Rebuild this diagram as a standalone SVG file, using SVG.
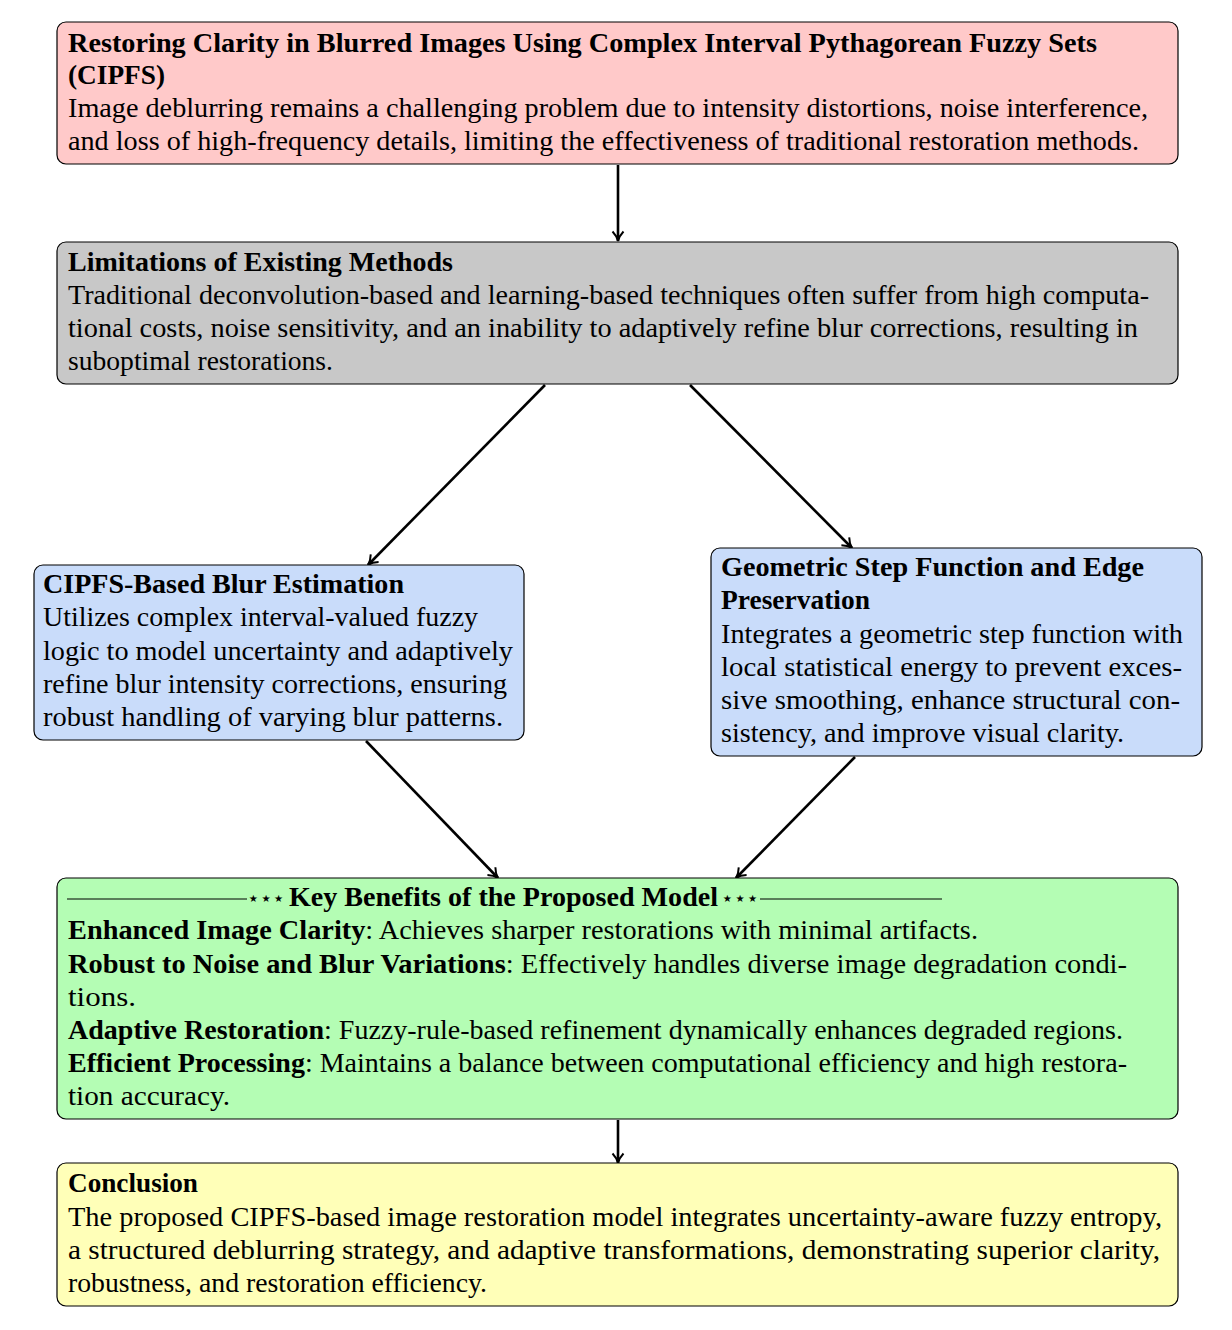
<svg xmlns="http://www.w3.org/2000/svg" width="1232" height="1330" viewBox="0 0 1232 1330">
<style>
text{font-family:"Liberation Serif","Times New Roman",serif;font-size:26.5px;fill:#000}
.b{font-weight:bold}
.box{stroke:#000;stroke-width:1.2}
.arrow{stroke:#000;stroke-width:2.6;fill:none;marker-end:url(#tip)}
.star{font-family:"DejaVu Sans","DejaVu Serif",sans-serif;font-size:20px}
</style>
<defs>
<marker id="tip" viewBox="0 0 14 14" refX="12" refY="7" markerWidth="14" markerHeight="14" markerUnits="userSpaceOnUse" orient="auto">
<path d="M2.5,1.5 Q7,5.8 12,7 Q7,8.2 2.5,12.5" fill="none" stroke="#000" stroke-width="2"/>
</marker>
</defs>
<rect width="1232" height="1330" fill="#fff"/>
<g id="connectors">
<line class="arrow" x1="618" y1="165" x2="618" y2="241"/>
<line class="arrow" x1="545" y1="385" x2="368" y2="565"/>
<line class="arrow" x1="690" y1="385" x2="852" y2="548"/>
<line class="arrow" x1="366" y1="741" x2="498" y2="878"/>
<line class="arrow" x1="855" y1="757" x2="736" y2="878"/>
<line class="arrow" x1="618" y1="1120" x2="618" y2="1163"/>
</g>
<g id="problem">
<rect class="box" x="57" y="22" width="1121" height="142" rx="9" fill="#ffc9c9"/>
<text x="68" y="51.5" class="b" textLength="1029" lengthAdjust="spacingAndGlyphs">Restoring Clarity in Blurred Images Using Complex Interval Pythagorean Fuzzy Sets</text>
<text x="68" y="84" class="b" textLength="97" lengthAdjust="spacingAndGlyphs">(CIPFS)</text>
<text x="68" y="117" textLength="1080" lengthAdjust="spacingAndGlyphs">Image deblurring remains a challenging problem due to intensity distortions, noise interference,</text>
<text x="68" y="150" textLength="1071" lengthAdjust="spacingAndGlyphs">and loss of high-frequency details, limiting the effectiveness of traditional restoration methods.</text>
</g>
<g id="limitations">
<rect class="box" x="57" y="242" width="1121" height="142" rx="9" fill="#c8c8c8"/>
<text x="68" y="271" class="b" textLength="385" lengthAdjust="spacingAndGlyphs">Limitations of Existing Methods</text>
<text x="68" y="304" textLength="1081" lengthAdjust="spacingAndGlyphs">Traditional deconvolution-based and learning-based techniques often suffer from high computa-</text>
<text x="68" y="337" textLength="1070" lengthAdjust="spacingAndGlyphs">tional costs, noise sensitivity, and an inability to adaptively refine blur corrections, resulting in</text>
<text x="68" y="370" textLength="265" lengthAdjust="spacingAndGlyphs">suboptimal restorations.</text>
</g>
<g id="blur-estimation">
<rect class="box" x="34" y="565" width="490" height="175" rx="9" fill="#c9dcfa"/>
<text x="43" y="593" class="b" textLength="361" lengthAdjust="spacingAndGlyphs">CIPFS-Based Blur Estimation</text>
<text x="43" y="626" textLength="435" lengthAdjust="spacingAndGlyphs">Utilizes complex interval-valued fuzzy</text>
<text x="43" y="660" textLength="470" lengthAdjust="spacingAndGlyphs">logic to model uncertainty and adaptively</text>
<text x="43" y="693" textLength="464" lengthAdjust="spacingAndGlyphs">refine blur intensity corrections, ensuring</text>
<text x="43" y="726" textLength="460" lengthAdjust="spacingAndGlyphs">robust handling of varying blur patterns.</text>
</g>
<g id="geometric-step">
<rect class="box" x="711" y="548" width="491" height="208" rx="9" fill="#c9dcfa"/>
<text x="721" y="576" class="b" textLength="423" lengthAdjust="spacingAndGlyphs">Geometric Step Function and Edge</text>
<text x="721" y="609" class="b" textLength="149" lengthAdjust="spacingAndGlyphs">Preservation</text>
<text x="721" y="643" textLength="462" lengthAdjust="spacingAndGlyphs">Integrates a geometric step function with</text>
<text x="721" y="676" textLength="461" lengthAdjust="spacingAndGlyphs">local statistical energy to prevent exces-</text>
<text x="721" y="709" textLength="459" lengthAdjust="spacingAndGlyphs">sive smoothing, enhance structural con-</text>
<text x="721" y="742" textLength="403" lengthAdjust="spacingAndGlyphs">sistency, and improve visual clarity.</text>
</g>
<g id="benefits">
<rect class="box" x="57" y="878" width="1121" height="241" rx="9" fill="#b4fdb4"/>
<line x1="67" y1="899" x2="247" y2="899" stroke="#000" stroke-width="1"/>
<text x="247" y="905" class="star" textLength="38" lengthAdjust="spacingAndGlyphs">⋆⋆⋆</text>
<text x="289" y="906" class="b" textLength="429" lengthAdjust="spacingAndGlyphs">Key Benefits of the Proposed Model</text>
<text x="721" y="905" class="star" textLength="38" lengthAdjust="spacingAndGlyphs">⋆⋆⋆</text>
<line x1="760" y1="899" x2="942" y2="899" stroke="#000" stroke-width="1"/>
<text x="68" y="939" textLength="910" lengthAdjust="spacingAndGlyphs"><tspan class="b">Enhanced Image Clarity</tspan>:  Achieves sharper restorations with minimal artifacts.</text>
<text x="68" y="973" textLength="1059" lengthAdjust="spacingAndGlyphs"><tspan class="b">Robust to Noise and Blur Variations</tspan>:  Effectively handles diverse image degradation condi-</text>
<text x="68" y="1006" textLength="68" lengthAdjust="spacingAndGlyphs">tions.</text>
<text x="68" y="1039" textLength="1055" lengthAdjust="spacingAndGlyphs"><tspan class="b">Adaptive Restoration</tspan>:  Fuzzy-rule-based refinement dynamically enhances degraded regions.</text>
<text x="68" y="1072" textLength="1059" lengthAdjust="spacingAndGlyphs"><tspan class="b">Efficient Processing</tspan>:  Maintains a balance between computational efficiency and high restora-</text>
<text x="68" y="1105" textLength="162" lengthAdjust="spacingAndGlyphs">tion accuracy.</text>
</g>
<g id="conclusion">
<rect class="box" x="57" y="1163" width="1121" height="143" rx="9" fill="#ffffb8"/>
<text x="68" y="1192" class="b" textLength="130" lengthAdjust="spacingAndGlyphs">Conclusion</text>
<text x="68" y="1226" textLength="1094" lengthAdjust="spacingAndGlyphs">The proposed CIPFS-based image restoration model integrates uncertainty-aware fuzzy entropy,</text>
<text x="68" y="1259" textLength="1092" lengthAdjust="spacingAndGlyphs">a structured deblurring strategy, and adaptive transformations, demonstrating superior clarity,</text>
<text x="68" y="1292" textLength="419" lengthAdjust="spacingAndGlyphs">robustness, and restoration efficiency.</text>
</g>
</svg>
